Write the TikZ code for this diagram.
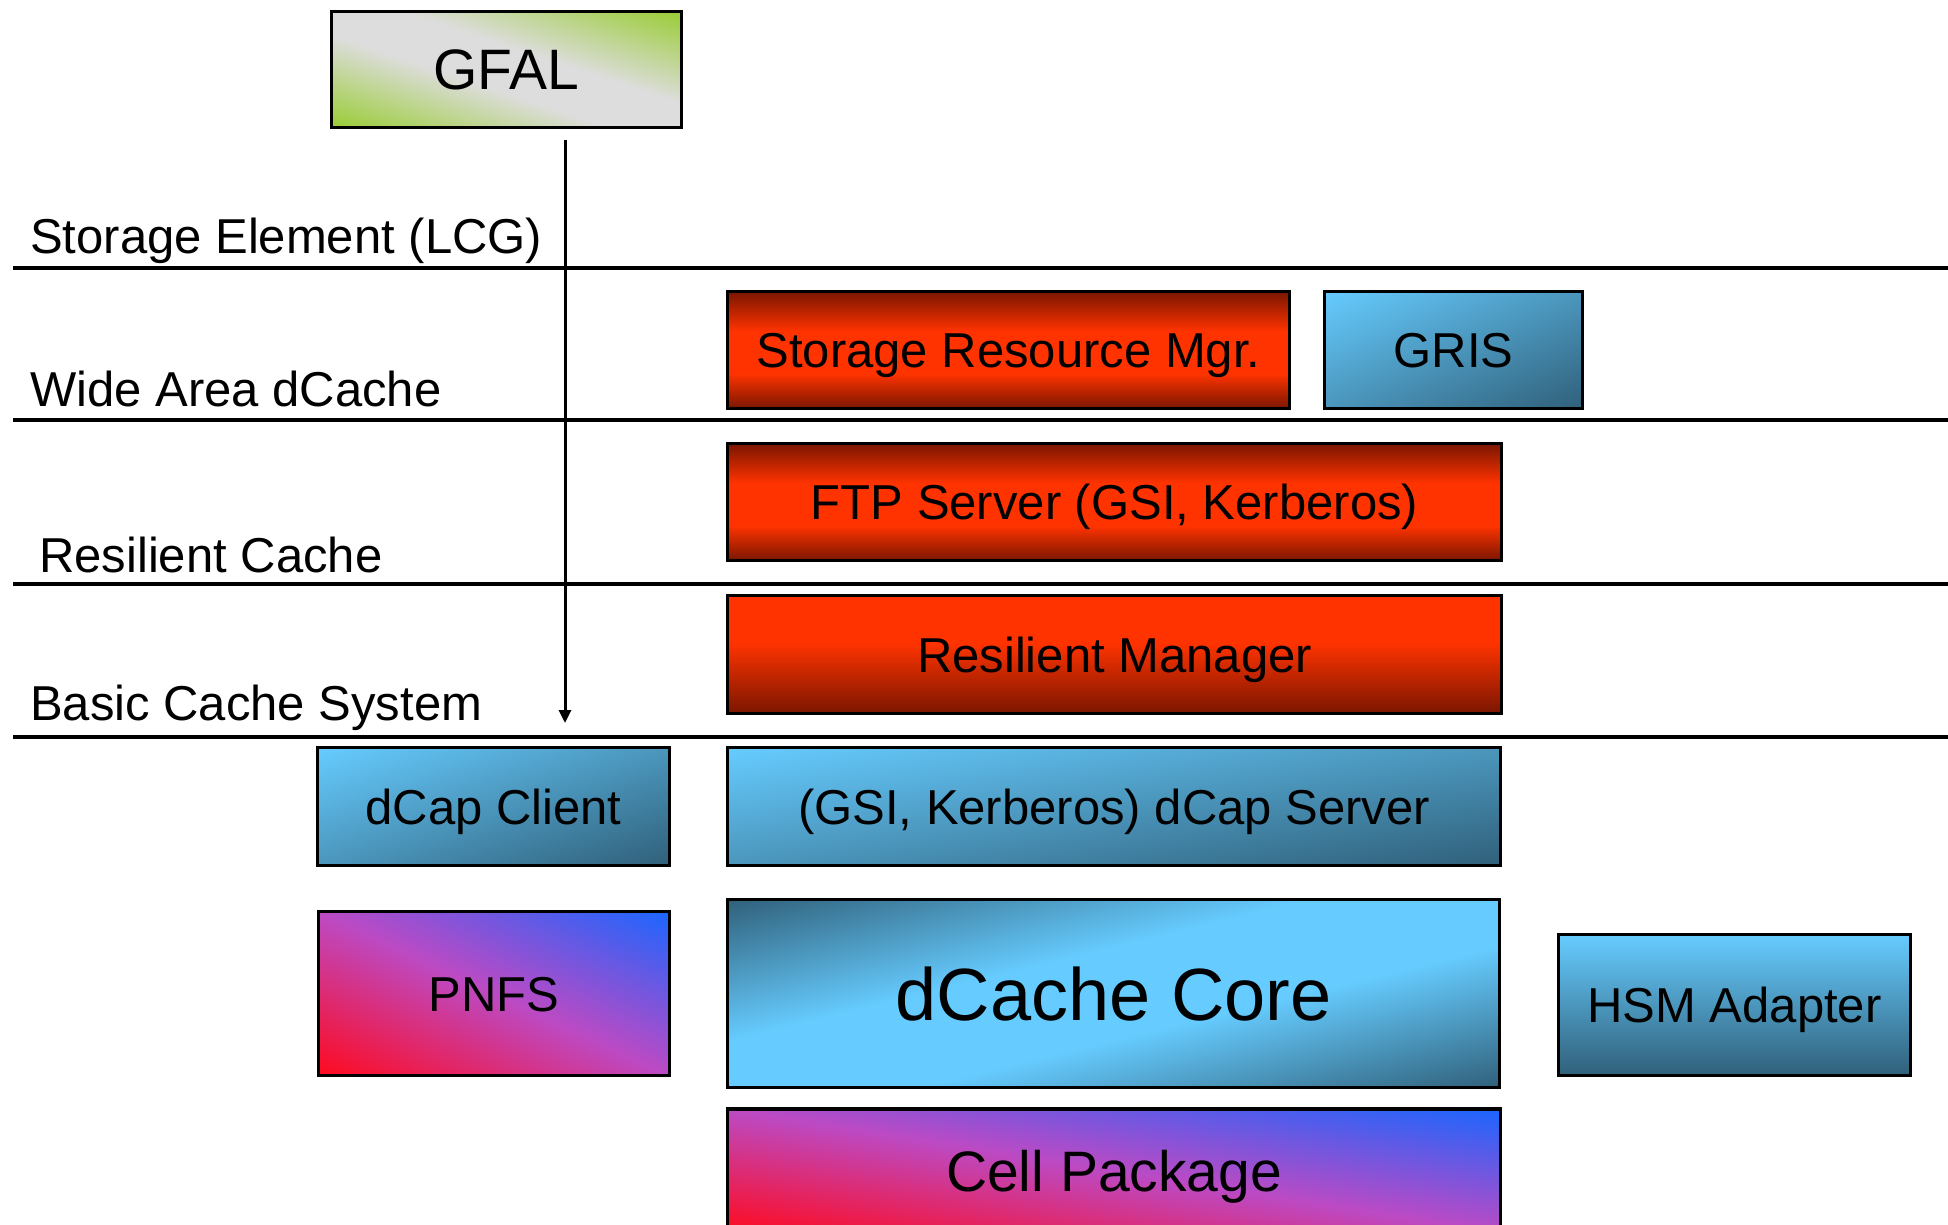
\documentclass[tikz,border=0pt]{standalone}
\usepackage{fontspec}
\setmainfont{Liberation Sans}
\usetikzlibrary{arrows.meta}
\definecolor{dred}{HTML}{7A1600}
\definecolor{bred}{HTML}{FF3300}
\definecolor{lblue}{HTML}{66CCFF}
\definecolor{dteal}{HTML}{30607A}
\definecolor{lgreen}{HTML}{99CC33}
\definecolor{lgray}{HTML}{DDDDDD}
\definecolor{pred}{HTML}{FF0A1E}
\definecolor{pblue}{HTML}{1A66FF}
\definecolor{pmid}{HTML}{BC4AC4}
\pgfdeclareverticalshading{gfalsh}{100bp}{color(0bp)=(lgreen); color(25bp)=(lgreen); color(45bp)=(lgray); color(55bp)=(lgray); color(75bp)=(lgreen); color(100bp)=(lgreen)}
\pgfdeclareverticalshading{bluesh}{100bp}{color(0bp)=(dteal); color(25bp)=(dteal); color(75bp)=(lblue); color(100bp)=(lblue)}
\pgfdeclareverticalshading{coresh}{100bp}{color(0bp)=(dteal); color(25bp)=(dteal); color(44bp)=(lblue); color(56bp)=(lblue); color(75bp)=(dteal); color(100bp)=(dteal)}
\pgfdeclareverticalshading{pinksh}{100bp}{color(0bp)=(pred); color(25bp)=(pred); color(50bp)=(pmid); color(75bp)=(pblue); color(100bp)=(pblue)}
\pgfdeclareverticalshading{redsh}{100bp}{color(0bp)=(dred); color(25bp)=(dred); color(40bp)=(bred); color(58bp)=(bred); color(75bp)=(dred); color(100bp)=(dred)}
\pgfdeclareverticalshading{rmsh}{100bp}{color(0bp)=(dred); color(25bp)=(dred); color(55bp)=(bred); color(75bp)=(bred); color(100bp)=(bred)}
\pgfdeclareverticalshading{hsmsh}{100bp}{color(0bp)=(dteal); color(25bp)=(dteal); color(75bp)=(lblue); color(100bp)=(lblue)}
\newcommand\myfs[1]{\fontsize{#1}{#1}\selectfont}
% diagonal shading clipped to a box: centre x, centre y, width, height, angle, shading
\newcommand\diagfill[6]{%
  \begin{scope}
  \clip (#1-#3/2,#2-#4/2) rectangle (#1+#3/2,#2+#4/2);
  \begin{scope}[transform canvas={shift={(#1,#2)}, xscale=#3/2, yscale=#4/2, rotate=#5}]
  \shade[shading=#6] (-1.42,-1.42) rectangle (1.42,1.42);
  \end{scope}
  \end{scope}}
\begin{document}
\begin{tikzpicture}[x=1pt,y=1pt,
  box/.style={draw=black, line width=3.5pt, inner sep=0pt, font=\myfs{49}, text height=35pt, text depth=0pt},
  big/.style={font=\myfs{57}, text height=41pt},
  huge/.style={font=\myfs{74}, text height=53pt},
  layerline/.style={line width=3.5pt},
  layerlabel/.style={anchor=base west, inner sep=0pt, font=\myfs{49}}]
\clip (0,0) rectangle (1948,-1225);
\useasboundingbox (0,0) rectangle (1948,-1225);
% layer lines
\draw[layerline] (13,-268) -- (1948,-268);
\draw[layerline] (13,-420) -- (1948,-420);
\draw[layerline] (13,-584) -- (1948,-584);
\draw[layerline] (13,-737) -- (1948,-737);
% layer labels
\node[layerlabel] (lse) at (30,-253) {Storage Element (LCG)};
\node[layerlabel] (lwa) at (30,-406) {Wide Area dCache};
\node[layerlabel] (lrc) at (39,-572) {Resilient Cache};
\node[layerlabel] (lbc) at (30,-720) {Basic Cache System};
% arrow
\coordinate (ast) at (565,-140);
\coordinate (aen) at (565,-723);
\draw[line width=3pt, -{Triangle[length=13pt,width=12pt]}] (ast) -- (aen);
% diagonal fills
\diagfill{506.5}{-69.5}{350}{116}{-45}{gfalsh}
\diagfill{1453.5}{-350}{258}{117}{45}{bluesh}
\diagfill{493.5}{-806.5}{352}{118}{45}{bluesh}
\diagfill{1114}{-806.5}{773}{118}{45}{bluesh}
\diagfill{494}{-993.5}{351}{164}{-45}{pinksh}
\diagfill{1113.5}{-993.5}{772}{188}{45}{coresh}
\diagfill{1114}{-1171}{773}{124}{-45}{pinksh}
% boxes
\node[box, big, minimum width=350, minimum height=116] (gfal) at (506.5,-69.5) {GFAL};
\node[box, shading=redsh, minimum width=562, minimum height=117] (srm) at (1008.5,-350) {Storage Resource Mgr.};
\node[box, minimum width=258, minimum height=117] (gris) at (1453.5,-350) {GRIS};
\node[box, shading=redsh, minimum width=774, minimum height=117] (ftp) at (1114.5,-502) {FTP Server (GSI, Kerberos)};
\node[box, shading=rmsh, minimum width=774, minimum height=118] (rm) at (1114.5,-654.5) {Resilient Manager};
\node[box, minimum width=352, minimum height=118] (dcc) at (493.5,-806.5) {dCap Client};
\node[box, minimum width=773, minimum height=118] (dcs) at (1114,-806.5) {(GSI, Kerberos) dCap Server};
\node[box, minimum width=351, minimum height=164] (pnfs) at (494,-993.5) {PNFS};
\node[box, huge, minimum width=772, minimum height=188] (core) at (1113.5,-993.5) {dCache Core};
\node[box, shading=hsmsh, minimum width=352, minimum height=141] (hsm) at (1734.5,-1005) {HSM Adapter};
\node[box, big, minimum width=773, minimum height=124] (cell) at (1114,-1171) {Cell Package};
\end{tikzpicture}
\end{document}
